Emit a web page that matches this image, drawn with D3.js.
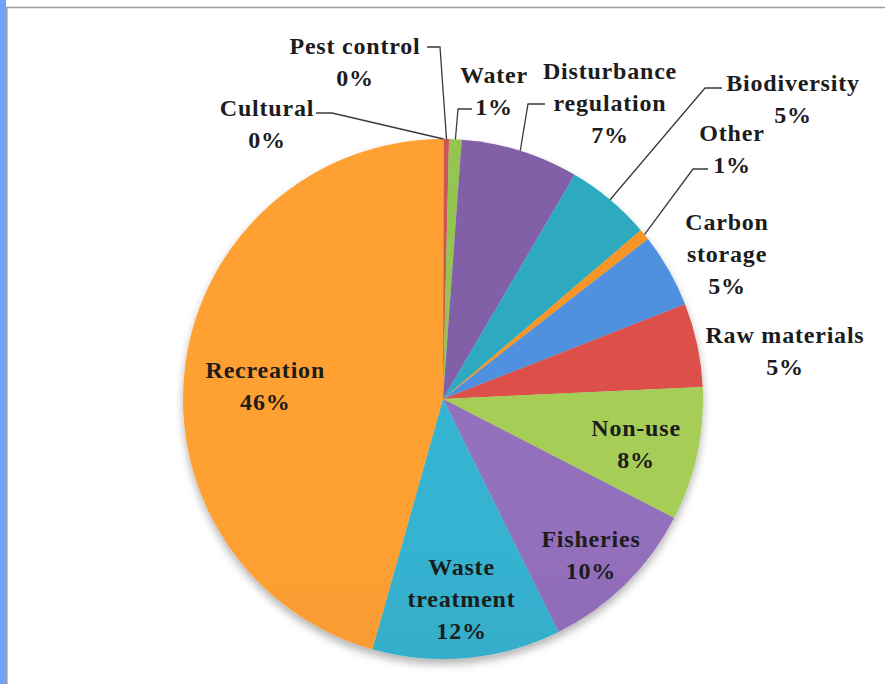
<!DOCTYPE html>
<html>
<head>
<meta charset="utf-8">
<script src="https://cdn.jsdelivr.net/npm/d3@7"></script>
<style>
  html, body { margin: 0; padding: 0; background: #fff; overflow: hidden; }
  text { font-family: "Liberation Serif", "Times New Roman", serif; font-weight: bold; fill: #1c1c1c; letter-spacing: 0.8px; }
</style>
</head>
<body>
<svg id="chart" width="885" height="684"></svg>
<script>
// slices, clockwise from 12 o'clock
const categories = [
  "Cultural", "Pest control", "Water", "Disturbance regulation", "Biodiversity",
  "Other", "Carbon storage", "Raw materials", "Non-use", "Fisheries",
  "Waste treatment", "Recreation"
];
const shares = [0.06, 0.31, 0.78, 7.3, 5.3, 0.7, 4.6, 5.2, 8.3, 10.1, 11.7, 45.6];
const colors = [
  "#9c9c9c", "#c0504d", "#8cb84c", "#7a5a9e", "#2c9fb4",
  "#e88c24", "#4a88d0", "#cf4b45", "#9cc052", "#8a68b0",
  "#33a8c4", "#f1962f"
];
// how each label is broken into lines (the percentage is added below)
const labelLines = {
  "Disturbance regulation": ["Disturbance", "regulation"],
  "Carbon storage": ["Carbon", "storage"],
  "Waste treatment": ["Waste", "treatment"]
};

// label layout: outside labels get a block centre and an elbow for the leader line
const outsideLabels = {
  "Cultural":               { x: 267, y: 124, elbow: [[316, 113], [332, 113]] },
  "Pest control":           { x: 355, y: 62,  elbow: [[427, 47], [440, 47]] },
  "Water":                  { x: 494, y: 91,  elbow: [[472, 109], [458, 109]] },
  "Disturbance regulation": { x: 610, y: 103, elbow: [[545, 104], [528, 104]] },
  "Biodiversity":           { x: 793, y: 99,  elbow: [[722, 88], [705, 88]] },
  "Other":                  { x: 732, y: 149, elbow: [[708, 169], [693, 169]] },
  "Carbon storage":         { x: 727, y: 254 },
  "Raw materials":          { x: 785, y: 351 }
};
const insideRadius = { "Recreation": 0.69, "Fisheries": 0.8, "Waste treatment": 0.77, "Non-use": 0.76 };
const insideNudge = { "Recreation": [0, 11], "Fisheries": [2, 7], "Non-use": [0, 3] };

const W = 885, H = 684;
const cx = 443, cy = 399, R = 260;
const lineH = 32;

const svg = d3.select("#chart");
const defs = svg.append("defs");

// frame: blue strip on the left, thin grey border
svg.append("rect").attr("x", 0).attr("y", 0).attr("width", 6).attr("height", H).attr("fill", "#6fa1ff");
svg.append("line").attr("x1", 6.8).attr("x2", 6.8).attr("y1", 7).attr("y2", H)
  .attr("stroke", "#a0a0a0").attr("stroke-width", 1.6);
svg.append("line").attr("x1", 6).attr("x2", W).attr("y1", 7.5).attr("y2", 7.5)
  .attr("stroke", "#a0a0a0").attr("stroke-width", 1.6);

// soft shadow under the pie
const shadow = defs.append("filter").attr("id", "shadow")
  .attr("x", "-10%").attr("y", "-10%").attr("width", "120%").attr("height", "125%");
shadow.append("feDropShadow").attr("dx", 0).attr("dy", 5).attr("stdDeviation", 4)
  .attr("flood-color", "#000").attr("flood-opacity", 0.3);

// vertical light-to-dark gradient for every slice
const color = d3.scaleOrdinal(categories, colors);
categories.forEach((c, i) => {
  const g = defs.append("linearGradient").attr("id", "grad" + i)
    .attr("gradientUnits", "userSpaceOnUse")
    .attr("x1", 0).attr("x2", 0).attr("y1", cy - R).attr("y2", cy + R);
  g.append("stop").attr("offset", "0%").attr("stop-color", d3.rgb(color(c)).brighter(0.18));
  g.append("stop").attr("offset", "100%").attr("stop-color", d3.rgb(color(c)).darker(0.22));
});

const data = categories.map((c, i) => ({ name: c, value: shares[i], idx: i }));
const total = d3.sum(shares);
const pie = d3.pie().sort(null).value(d => d.value);
const arcs = pie(data);
const arc = d3.arc().innerRadius(0).outerRadius(R);
const edge = d3.arc().innerRadius(R).outerRadius(R);

const g = svg.append("g").attr("transform", `translate(${cx},${cy})`);
g.append("g").attr("filter", "url(#shadow)")
  .selectAll("path")
  .data(arcs)
  .join("path")
  .attr("d", arc)
  .attr("fill", d => `url(#grad${d.data.idx})`);

const pct = d => Math.round(d.data.value / total * 100) + "%";
const lines = d => (labelLines[d.data.name] || [d.data.name]).concat([pct(d)]);

// leader lines
const leaders = arcs.filter(d => outsideLabels[d.data.name] && outsideLabels[d.data.name].elbow);
svg.append("g").selectAll("polyline")
  .data(leaders)
  .join("polyline")
  .attr("fill", "none")
  .attr("stroke", "#3a3a3a")
  .attr("stroke-width", 1.3)
  .attr("points", d => {
    const [ex, ey] = edge.centroid(d);
    const pts = outsideLabels[d.data.name].elbow.concat([[cx + ex, cy + ey]]);
    return pts.map(p => p.join(",")).join(" ");
  });

// labels
svg.append("g").selectAll("text")
  .data(arcs)
  .join("text")
  .attr("text-anchor", "middle")
  .attr("font-size", 24)
  .each(function (d) {
    const o = outsideLabels[d.data.name];
    let x, y;
    if (o) { x = o.x; y = o.y; }
    else {
      const k = insideRadius[d.data.name] || 0.75;
      const [lx, ly] = d3.arc().innerRadius(R * k).outerRadius(R * k).centroid(d);
      const [nx, ny] = insideNudge[d.data.name] || [0, 0];
      x = cx + lx + nx; y = cy + ly + ny;
    }
    const ls = lines(d);
    const y0 = y - (ls.length - 1) * lineH / 2;
    d3.select(this).selectAll("tspan")
      .data(ls)
      .join("tspan")
      .attr("x", x)
      .attr("y", (t, i) => y0 + i * lineH)
      .attr("dy", "0.35em")
      .text(t => t);
  });
</script>
</body>
</html>
